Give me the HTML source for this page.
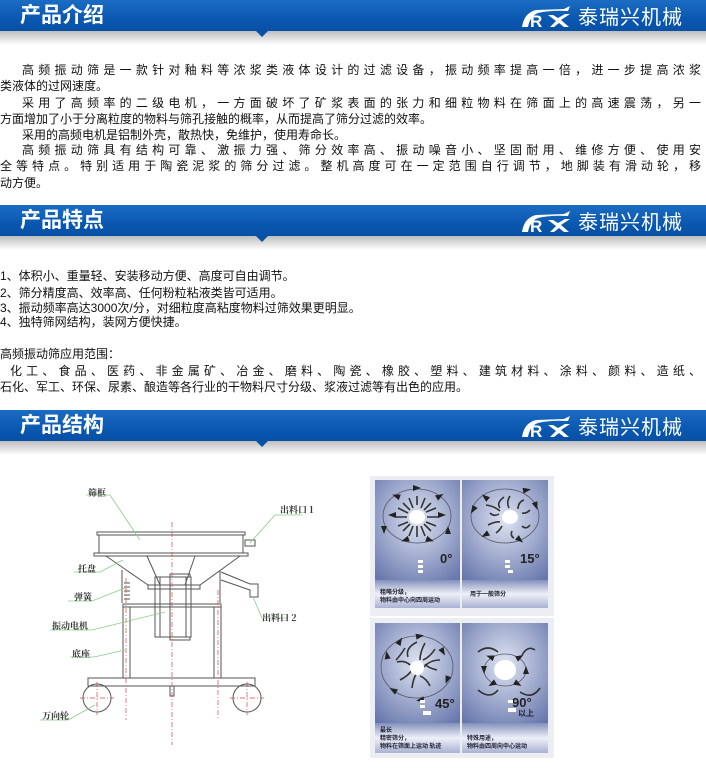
<!DOCTYPE html>
<html><head><meta charset="utf-8"><style>
*{margin:0;padding:0;box-sizing:border-box}
body{width:706px;height:769px;background:#fff;position:relative;overflow:hidden;font-family:"Liberation Sans","Noto Sans CJK SC",sans-serif;color:#111}
.bar{position:absolute;left:0;width:706px;height:31px;background:linear-gradient(#1c6cc4,#0a58b0 60%,#0850a6)}
.sh{position:absolute;left:0;width:706px;height:14px;background:linear-gradient(#bdbdbd,#fff)}
.notch{position:absolute;left:256px;width:0;height:0;border-left:6px solid transparent;border-right:6px solid transparent;border-top:6px solid #0850a6}
.tt{position:absolute;left:20px;top:3px;color:#fff;font-size:21px;font-weight:bold;font-family:"Noto Sans CJK SC",sans-serif;line-height:25px}
.logo{position:absolute;left:578px;top:3px;color:#fff;font-size:20px;font-family:"Noto Sans CJK SC",sans-serif;line-height:25px;letter-spacing:1px}
.ic{position:absolute;left:520px;top:4px}
.l{position:absolute;left:0;width:701px;font-size:12px;line-height:16px;white-space:nowrap;font-family:"Liberation Sans","Noto Sans CJK SC",sans-serif}
.j{text-align:justify;text-align-last:justify;white-space:normal}
.lab{position:absolute;font-family:"Noto Serif CJK SC",serif;font-size:9px;font-weight:bold;color:#333;white-space:nowrap}
</style></head><body>

<div class="bar" style="top:0"></div><div class="sh" style="top:31px"></div><div class="notch" style="top:31px"></div>
<div class="tt" style="top:2px">产品介绍</div>
<svg class="ic" style="top:5px" width="56" height="24" viewBox="0 0 56 24"><path d="M2 22 Q4 8 16 5 L44 4 L50 1 L48 6 Q30 5 18 8 Q10 11 8 22Z" fill="#fff"/><text x="10" y="22" fill="#fff" font-size="17" font-weight="bold" font-family="Liberation Sans">R</text><path d="M28 10 L36 16 L30 22 L34 22 L39 18 L44 22 L49 22 L41 15 L50 9 L45 9 L38 13 L33 10Z" fill="#fff"/></svg>
<div class="logo">泰瑞兴机械</div>

<div class="l j" style="top:62px;padding-left:22px">高频振动筛是一款针对釉料等浓浆类液体设计的过滤设备，振动频率提高一倍，进一步提高浓浆</div>
<div class="l" style="top:78px">类液体的过网速度。</div>
<div class="l j" style="top:95px;padding-left:22px">采用了高频率的二级电机，一方面破坏了矿浆表面的张力和细粒物料在筛面上的高速震荡，另一</div>
<div class="l" style="top:111px">方面增加了小于分离粒度的物料与筛孔接触的概率，从而提高了筛分过滤的效率。</div>
<div class="l" style="top:127px;padding-left:22px">采用的高频电机是铝制外壳，散热快，免维护，使用寿命长。</div>
<div class="l j" style="top:142px;padding-left:22px">高频振动筛具有结构可靠、激振力强、筛分效率高、振动噪音小、坚固耐用、维修方便、使用安</div>
<div class="l j" style="top:158px">全等特点。特别适用于陶瓷泥浆的筛分过滤。整机高度可在一定范围自行调节，地脚装有滑动轮，移</div>
<div class="l" style="top:175px">动方便。</div>

<div class="bar" style="top:205px"></div><div class="sh" style="top:236px"></div><div class="notch" style="top:236px"></div>
<div class="tt" style="top:207px">产品特点</div>
<svg class="ic" style="top:210px" width="56" height="24" viewBox="0 0 56 24"><path d="M2 22 Q4 8 16 5 L44 4 L50 1 L48 6 Q30 5 18 8 Q10 11 8 22Z" fill="#fff"/><text x="10" y="22" fill="#fff" font-size="17" font-weight="bold" font-family="Liberation Sans">R</text><path d="M28 10 L36 16 L30 22 L34 22 L39 18 L44 22 L49 22 L41 15 L50 9 L45 9 L38 13 L33 10Z" fill="#fff"/></svg>
<div class="logo" style="top:208px">泰瑞兴机械</div>

<div class="l" style="top:268px">1、体积小、重量轻、安装移动方便、高度可自由调节。</div>
<div class="l" style="top:285px">2、筛分精度高、效率高、任何粉粒粘液类皆可适用。</div>
<div class="l" style="top:300px">3、振动频率高达3000次/分，对细粒度高粘度物料过筛效果更明显。</div>
<div class="l" style="top:314px">4、独特筛网结构，装网方便快捷。</div>
<div class="l" style="top:346px">高频振动筛应用范围：</div>
<div class="l j" style="top:363px;padding-left:10px">化工、食品、医药、非金属矿、冶金、磨料、陶瓷、橡胶、塑料、建筑材料、涂料、颜料、造纸、</div>
<div class="l" style="top:379px">石化、军工、环保、尿素、酿造等各行业的干物料尺寸分级、浆液过滤等有出色的应用。</div>

<div class="bar" style="top:410px"></div><div class="sh" style="top:441px"></div><div class="notch" style="top:441px"></div>
<div class="tt" style="top:412px">产品结构</div>
<svg class="ic" style="top:415px" width="56" height="24" viewBox="0 0 56 24"><path d="M2 22 Q4 8 16 5 L44 4 L50 1 L48 6 Q30 5 18 8 Q10 11 8 22Z" fill="#fff"/><text x="10" y="22" fill="#fff" font-size="17" font-weight="bold" font-family="Liberation Sans">R</text><path d="M28 10 L36 16 L30 22 L34 22 L39 18 L44 22 L49 22 L41 15 L50 9 L45 9 L38 13 L33 10Z" fill="#fff"/></svg>
<div class="logo" style="top:413px">泰瑞兴机械</div>

<!-- machine drawing -->
<svg style="position:absolute;left:0;top:0" width="706" height="769">
<g stroke="#555" stroke-width="1" fill="none">
<rect x="97" y="532" width="148" height="3"/>
<path d="M99 535 L99 553 M243 535 L243 553"/>
<rect x="94" y="553" width="154" height="3"/>
<path d="M106 556 L148 585 L200 585 L240 556"/>
<path d="M147 556 L160 585 M195 556 L185 585"/>
<rect x="148" y="585" width="52" height="4"/>
<path d="M122 570 L122 603 M220 570 L220 603"/>
<rect x="123" y="604" width="98" height="3"/>
<rect x="123" y="607" width="7" height="71"/><rect x="214" y="607" width="7" height="71"/>
<rect x="155" y="577" width="36" height="60"/>
<path d="M160 577 L160 637 M186 577 L186 637 M170 577 L170 637"/>
<rect x="170" y="574" width="20" height="3"/><rect x="170" y="637" width="20" height="3"/>
<path d="M221 572 L250 584 L258 584 L258 597 L250 597 L250 590 L221 580"/>
<rect x="245" y="540" width="10" height="6"/>
<path d="M124 583 L130 583 M124 587 L130 587 M124 591 L130 591 M124 595 L130 595 M124 599 L130 599"/>
<rect x="88" y="678" width="167" height="8"/>
<circle cx="97" cy="698" r="14"/><circle cx="247" cy="698" r="14"/>
<rect x="170" y="686" width="4" height="10"/>
</g>
<g stroke="#d44" stroke-width="0.7" stroke-dasharray="5 2 1 2" fill="none">
<path d="M172 522 L172 745 M126 578 L126 720 M218 590 L218 720 M80 698 L114 698 M97 682 L97 715 M230 698 L264 698 M247 682 L247 715"/>
</g>
<g stroke="#8c8" stroke-width="0.8" fill="none">
<path d="M86 495 L110 495 L140 540 M74 572 L100 572 L123 560 M68 601 L92 601 L125 588 M50 630 L92 630 L165 612 M70 657 L94 657 L125 650 M40 720 L68 720 L95 705 M275 515 L302 515 M275 515 L250 543 M262 618 L288 618 M262 618 L253 597"/>
</g>
</svg>
<div class="lab" style="left:88px;top:486px">筛框</div>
<div class="lab" style="left:78px;top:562px">托盘</div>
<div class="lab" style="left:74px;top:590px">弹簧</div>
<div class="lab" style="left:52px;top:619px">振动电机</div>
<div class="lab" style="left:72px;top:647px">底座</div>
<div class="lab" style="left:42px;top:709px">万向轮</div>
<div class="lab" style="left:280px;top:503px">出料口 1</div>
<div class="lab" style="left:262px;top:611px">出料口 2</div>

<!-- motion panels -->
<svg style="position:absolute;left:0;top:0" width="706" height="769">
<defs>
<radialGradient id="pg" cx="50%" cy="40%" r="75%"><stop offset="0" stop-color="#dfe4f2"/><stop offset="1" stop-color="#6676ac"/></radialGradient>
<linearGradient id="cg" x1="0" y1="0" x2="0" y2="1"><stop offset="0" stop-color="#8390bc"/><stop offset=".5" stop-color="#eef0f8"/><stop offset="1" stop-color="#a9b2d2"/></linearGradient>
<path id="ar" d="M-4 -3 L4 0 L-4 3Z" fill="#222"/>
</defs>
<rect x="370" y="476" width="184" height="140" fill="#eceef3"/>
<rect x="370" y="618" width="184" height="140" fill="#eceef3"/>
<g>
<rect x="375" y="480" width="85" height="100" fill="url(#pg)"/><rect x="375" y="580" width="85" height="28" fill="url(#cg)"/>
<rect x="462" y="480" width="86" height="100" fill="url(#pg)"/><rect x="462" y="580" width="86" height="28" fill="url(#cg)"/>
<rect x="375" y="623" width="85" height="100" fill="url(#pg)"/><rect x="375" y="723" width="85" height="30" fill="url(#cg)"/>
<rect x="462" y="623" width="86" height="100" fill="url(#pg)"/><rect x="462" y="723" width="86" height="30" fill="url(#cg)"/>
</g>
<g fill="none" stroke="#556" stroke-width="0.8"><ellipse cx="417" cy="516" rx="34" ry="27"/><ellipse cx="505" cy="516" rx="34" ry="27"/><ellipse cx="417" cy="667" rx="36" ry="31"/><ellipse cx="505" cy="670" rx="21" ry="16"/></g>
<g stroke="#333" stroke-width="1.6" fill="none">
<path d="M417 496 L417 505 M417 526 L417 537 M396 517 L407 517 M427 517 L438 517 M403 503 L410 510 M424 524 L431 531 M431 503 L424 510 M410 524 L403 531 M409 498 L413 508 M421 526 L425 536 M398 526 L408 522 M426 512 L436 508 M425 498 L421 508 M413 526 L409 536 M398 508 L408 513 M426 522 L436 526"/>
<path d="M504 497 Q496 503 500 508 M524 500 Q518 502 518 509 M490 513 Q494 517 499 514 M522 526 Q526 530 530 525 M488 525 Q496 521 500 522 M512 531 Q510 536 514 538 M530 510 Q526 514 522 513 M496 533 Q500 530 502 526 M510 496 Q506 502 509 508 M486 505 Q494 506 500 511"/>
<path d="M417 642 Q405 648 408 657 M435 649 Q430 657 423 660 M397 662 Q405 660 410 665 M437 670 Q428 668 425 664 M400 680 Q408 676 412 670 M430 686 Q426 678 420 676 M412 688 Q413 680 416 674 M405 648 Q400 656 396 660 M425 643 Q420 652 420 660 M440 660 Q430 660 424 667"/>
<path d="M478 652 Q488 644 498 652 M535 650 Q528 645 522 655 M478 690 Q490 700 498 690 M540 688 Q532 700 520 692"/>
</g>
<g fill="#fff"><ellipse cx="417" cy="517" rx="8" ry="7"/><ellipse cx="510" cy="517" rx="8" ry="7"/><ellipse cx="417" cy="668" rx="7" ry="7"/><ellipse cx="505" cy="670" rx="11" ry="10"/></g>
<g>
<use href="#ar" transform="translate(396,496) rotate(200)"/><use href="#ar" transform="translate(440,496) rotate(-30)"/><use href="#ar" transform="translate(384,530) rotate(90)"/><use href="#ar" transform="translate(448,530) rotate(-90)"/><use href="#ar" transform="translate(405,540) rotate(160)"/><use href="#ar" transform="translate(430,540) rotate(20)"/><use href="#ar" transform="translate(417,488) rotate(0)"/><use href="#ar" transform="translate(392,515) rotate(180)"/><use href="#ar" transform="translate(442,515) rotate(0)"/>
<use href="#ar" transform="translate(485,497) rotate(220)"/><use href="#ar" transform="translate(527,490) rotate(-10)"/><use href="#ar" transform="translate(536,506) rotate(70)"/><use href="#ar" transform="translate(473,510) rotate(120)"/><use href="#ar" transform="translate(485,535) rotate(150)"/><use href="#ar" transform="translate(520,540) rotate(40)"/>
<use href="#ar" transform="translate(420,636) rotate(-10)"/><use href="#ar" transform="translate(443,652) rotate(60)"/><use href="#ar" transform="translate(447,680) rotate(110)"/><use href="#ar" transform="translate(420,700) rotate(170)"/><use href="#ar" transform="translate(393,690) rotate(210)"/><use href="#ar" transform="translate(387,655) rotate(260)"/><use href="#ar" transform="translate(400,641) rotate(300)"/>
<use href="#ar" transform="translate(490,657) rotate(200)"/><use href="#ar" transform="translate(520,657) rotate(-30)"/><use href="#ar" transform="translate(484,670) rotate(90)"/><use href="#ar" transform="translate(526,670) rotate(-90)"/><use href="#ar" transform="translate(492,684) rotate(150)"/><use href="#ar" transform="translate(518,684) rotate(30)"/>
</g>
<g fill="#222" font-family="Liberation Sans" font-weight="bold">
<text x="440" y="563" font-size="13">0°</text><text x="520" y="563" font-size="13">15°</text>
<text x="435" y="708" font-size="13">45°</text><text x="512" y="707" font-size="13">90°</text>
</g>
<g fill="#fff"><rect x="418" y="560" width="5" height="3"/><rect x="418" y="565" width="5" height="3"/><rect x="418" y="570" width="5" height="3"/><rect x="505" y="560" width="5" height="3"/><rect x="505" y="565" width="5" height="3"/><rect x="508" y="570" width="5" height="3"/><rect x="420" y="700" width="5" height="3"/><rect x="420" y="705" width="5" height="3"/><rect x="423" y="711" width="8" height="4"/><rect x="508" y="700" width="5" height="3"/><rect x="508" y="708" width="8" height="4"/></g>
<g fill="#223" font-family="Noto Sans CJK SC" font-size="6" font-weight="bold">
<text x="380" y="594">粗略分级，</text><text x="380" y="602">物料由中心向四周运动</text>
<text x="470" y="596">用于一般筛分</text>
<text x="380" y="732">最长</text><text x="380" y="740">精密筛分，</text><text x="380" y="748">物料在筛面上运动 轨迹</text>
<text x="467" y="740">特殊用途，</text><text x="467" y="748">物料由四周向中心运动</text>
<text x="518" y="716" font-size="8">以上</text>
</g>
</svg>
</body></html>
